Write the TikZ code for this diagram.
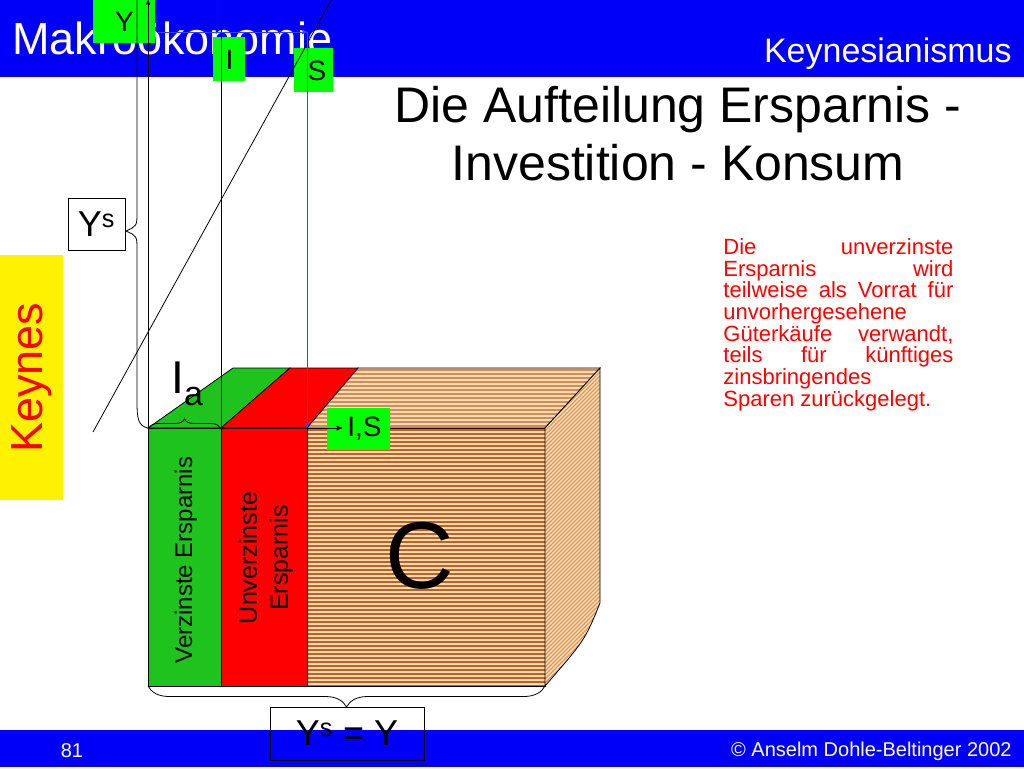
\documentclass[tikz,border=0pt]{standalone}
\usepackage{fontspec}
\setmainfont{Liberation Sans}
\usepackage{tikz}
\usetikzlibrary{arrows,decorations.pathreplacing}

\definecolor{hdrblue}{RGB}{0,0,250}
\definecolor{lgreen}{RGB}{0,255,0}
\definecolor{cgreen}{RGB}{30,195,30}
\definecolor{cbrown}{RGB}{190,98,30}
\definecolor{clight}{RGB}{250,222,186}
\definecolor{ctopbrown}{RGB}{212,140,80}
\definecolor{ctoplight}{RGB}{248,222,188}
\definecolor{csidebrown}{RGB}{222,148,80}
\definecolor{csidelight}{RGB}{250,230,200}
\definecolor{sblue}{RGB}{70,70,210}
\definecolor{faintblue}{RGB}{60,60,255}

\tikzset{
  greenlabel/.style={rectangle, fill=lgreen, inner sep=0pt},
  framelabel/.style={rectangle, draw, line width=0.6pt, inner sep=0pt},
  stripe/.style={line width=2pt}
}

\begin{document}
\begin{tikzpicture}[x=1pt,y=-1pt,>=stealth',line width=0.8pt]
\clip (0,0) rectangle (1024,768);

    % header and footer
    \node[rectangle,
          fill = hdrblue,
          inner sep = 0pt,
          minimum width = 1024pt,
          minimum height = 77pt,
          anchor = north west
          ] (head) at (0,0) {};
    \node[anchor=base west, inner sep=0pt, text=white,
          font=\fontsize{45}{45}\selectfont] (makro) at (12,55) {Makroökonomie};
    \node[anchor=base east, inner sep=0pt, text=white,
          font=\fontsize{34}{34}\selectfont] (keyn) at (1012,63) {Keynesianismus};

    \node[rectangle,
          fill = hdrblue,
          inner sep = 0pt,
          minimum width = 1024pt,
          minimum height = 37pt,
          anchor = north west
          ] (foot) at (0,730) {};
    \node[text=white, font=\fontsize{20}{20}\selectfont] (page) at (72,751) {81};
    \node[anchor=east, inner sep=0pt, text=white,
          font=\fontsize{20}{20}\selectfont] (copy) at (1012,751) {© Anselm Dohle-Beltinger 2002};

    % title
    \node[align=center, font=\fontsize{50}{58}\selectfont] (title) at (678,134)
        {Die Aufteilung Ersparnis -\\ Investition - Konsum};

    % side tab
    \node[rectangle,
          fill = yellow,
          inner sep = 0pt,
          minimum width = 63pt,
          minimum height = 245pt,
          anchor = north west
          ] (tab) at (0,255) {};
    \node[rotate=90, text=red, font=\fontsize{45}{45}\selectfont] at (tab.center) {Keynes};

    % the block
    \draw[fill=cgreen] (148,428) rectangle (221,686);
    \draw[fill=red] (221,428) rectangle (307,686);
    \begin{scope}
        \clip (307,428) rectangle (545,686);
        \fill[clight] (307,428) rectangle (545,686);
        \foreach \y in {430,434,...,686}
            \draw[stripe, cbrown] (300,\y) -- (550,\y);
    \end{scope}
    \draw (307,428) rectangle (545,686);

    \draw[fill=cgreen] (148,428) -- (233,368) -- (290,368) -- (221,428) -- cycle;
    \draw[fill=red] (221,428) -- (290,368) -- (358,368) -- (307,428) -- cycle;
    \begin{scope}
        \clip (307,428) -- (358,368) -- (600,368) -- (545,428) -- cycle;
        \fill[ctoplight] (300,360) rectangle (610,430);
        \foreach \y in {370,374,...,430}
            \draw[stripe, ctopbrown] (300,\y) -- (610,\y);
    \end{scope}
    \draw (307,428) -- (358,368) -- (600,368) -- (545,428) -- cycle;

    \begin{scope}
        \clip (545,428) -- (600,368) -- (600,603) .. controls (585,640) .. (545,686) -- cycle;
        \fill[csidelight] (540,360) rectangle (610,690);
        \foreach \c in {960,964,...,1240}
            \draw[line width=1.3pt, csidebrown] (\c-360,360) -- (\c-700,700);
    \end{scope}
    \draw (545,428) -- (600,368) -- (600,603) .. controls (585,640) .. (545,686) -- cycle;

    \node[rotate=90, font=\fontsize{24}{24}\selectfont] (verz) at (186,560) {Verzinste Ersparnis};
    \node[rotate=90, align=center, font=\fontsize{25}{31}\selectfont] (unverz) at (266,558)
        {Unverzinste\\Ersparnis};
    \node[font=\fontsize{95}{95}\selectfont] (cons) at (420,556) {C};

    % axis labels
    \node[greenlabel,
          minimum width = 62pt,
          minimum height = 43pt,
          anchor = north west
          ] (ybox) at (93,0) {};
    \node[font=\fontsize{28}{28}\selectfont] at (ybox.center) {Y};

    \node[greenlabel,
          minimum width = 32pt,
          minimum height = 44pt,
          anchor = north west
          ] (ibox) at (213,37) {};
    \node[font=\fontsize{28}{28}\selectfont] at (ibox.center) {I};

    \node[greenlabel,
          minimum width = 39pt,
          minimum height = 44pt,
          anchor = north west
          ] (sbox) at (294,48) {};
    \node[font=\fontsize{28}{28}\selectfont] at ([xshift=3pt]sbox.center) {S};

    \node[greenlabel,
          minimum width = 63pt,
          minimum height = 42pt
          ] (isbox) at (358.5,429) {};
    \node[font=\fontsize{28}{28}\selectfont] at ([xshift=6pt]isbox.center) {I,S};

    \node[framelabel,
          minimum width = 57pt,
          minimum height = 52pt
          ] (ysbox) at (96.5,224) {};
    \node[font=\fontsize{36}{36}\selectfont] at (ysbox.center) {Y\textsuperscript{s}};

    \node[framelabel,
          minimum width = 154pt,
          minimum height = 53pt
          ] (eqbox) at (347,733.5) {};
    \node[font=\fontsize{36}{36}\selectfont] at (eqbox.center) {Y\textsuperscript{s} = Y};

    \node[anchor=base west, inner sep=0pt, font=\fontsize{46}{46}\selectfont] (ia) at (171,393)
        {I\raisebox{-12pt}{\fontsize{34}{34}\selectfont a}};

    % lines
    \coordinate (orig) at (148,428);
    \coordinate (ytop) at (148,0);
    \coordinate (ifoot) at (221,428);
    \coordinate (itop) at (221,-5);
    \coordinate (sfoot) at (307,428);
    \coordinate (stop) at (307,32);
    \coordinate (hstart) at (157,32);
    \coordinate (dlow) at (93,432);
    \coordinate (dhigh) at (334,-5);
    \coordinate (isend) at (342,428);

    \path
    (orig) edge [->] (ytop)
    (ifoot) edge [] (itop)
    (dlow) edge [] (dhigh)
    (hstart) edge [->, faintblue] (stop)
    (stop) edge [->, sblue, line width=1pt] (sfoot)
    (sfoot) edge [->, line width=1pt] (isend);

    % braces
    \draw (148,428) .. controls (138,426) and (137,418) .. (137,402) -- (137,250)
        .. controls (137,236) .. (126,231) .. controls (137,226) .. (137,212) -- (137,-5);
    \draw[decorate, decoration={brace, amplitude=9pt}] (149,428) -- (220,428);
    \draw[decorate, decoration={brace, mirror, amplitude=21pt}] (148,686) -- (545,686);

    % note
    \node[anchor=north west, text width=230pt, inner sep=0pt, text=red, align=justify,
          font=\fontsize{22}{21.7}\selectfont] (note) at (723,238)
        {Die unverzinste\linebreak Ersparnis wird\linebreak teilweise als Vorrat für\linebreak
         unvorhergesehene\newline Güterkäufe verwandt,\linebreak teils für künftiges\linebreak
         zinsbringendes\newline Sparen zurückgelegt.};

\end{tikzpicture}
\end{document}
